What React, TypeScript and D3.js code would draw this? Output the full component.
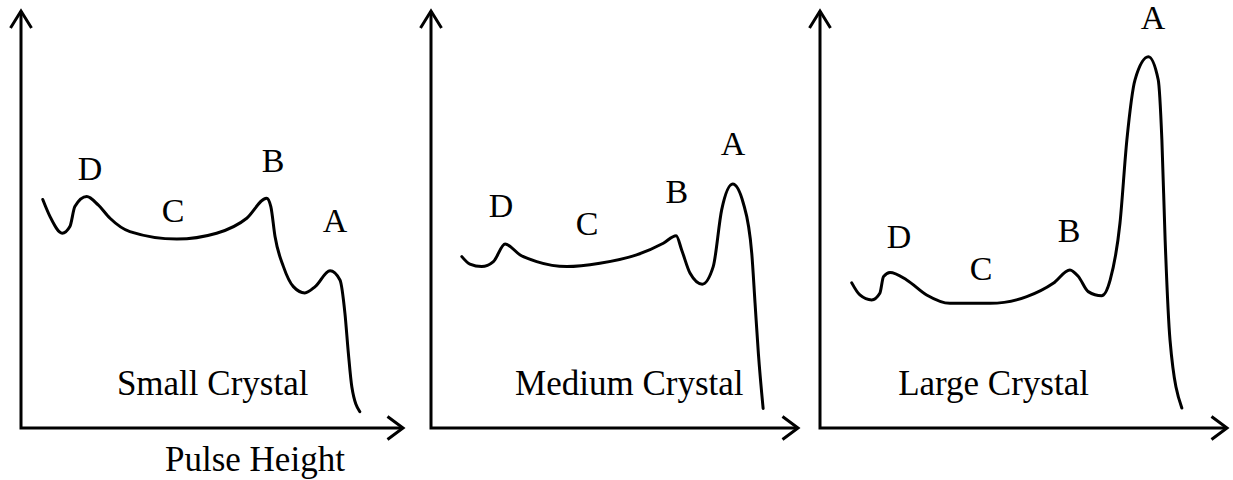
import React from "react";
import * as d3 from "d3";

const panelNames = ["Small Crystal", "Medium Crystal", "Large Crystal"];
const panelLetters = ["D", "C", "B", "A"];

// Pulse height (x) and counts (y) for each spectrum
const smallX = [5.7, 7.6, 10.8, 12.8, 14.1, 17.2, 20.2, 23.3, 28.5, 40.8, 51.2, 59.1, 64.3, 65.4, 66.5, 68.7, 71.3, 74.3, 77.0, 80.9, 83.5, 84.8, 85.7, 86.6, 88.7];
const smallY = [54.8, 50.7, 46.7, 48.3, 53.1, 55.5, 53.5, 50.3, 47.1, 45.3, 46.7, 50.3, 55.1, 53.1, 45.9, 38.7, 33.9, 32.4, 33.9, 37.7, 35.5, 27.5, 17.9, 9.9, 3.9];

const mediumX = [8.4, 10.6, 13.8, 17.0, 20.2, 24.3, 28.8, 37.0, 46.0, 56.0, 63.3, 66.8, 68.3, 70.6, 73.9, 76.9, 79.2, 82.2, 85.1, 87.4, 88.3, 89.2, 90.5];
const mediumY = [41.1, 39.3, 38.7, 39.9, 44.1, 41.5, 39.9, 38.7, 39.5, 41.5, 44.3, 46.1, 42.7, 37.1, 34.5, 38.7, 52.3, 58.5, 53.9, 41.9, 29.9, 17.9, 4.7];

const largeX = [7.8, 9.8, 12.7, 14.7, 15.6, 17.2, 21.3, 26.2, 31.9, 41.8, 50.8, 57.3, 61.4, 63.5, 65.9, 69.2, 71.3, 73.7, 75.4, 77.4, 80.7, 83.1, 84.0, 84.8, 86.0, 88.9];
const largeY = [34.8, 31.9, 30.7, 32.3, 36.3, 37.3, 35.5, 31.9, 29.9, 29.9, 31.5, 34.7, 37.9, 36.3, 32.7, 31.7, 35.5, 49.1, 69.1, 83.5, 89.0, 83.5, 69.1, 45.1, 21.1, 4.8];

// Peak label positions (D, C, B, A) in data units
const smallLabelX = [18.1, 39.8, 66.0, 82.2];
const smallLabelY = [59.5, 49.4, 61.4, 47.0];
const mediumLabelX = [19.1, 42.5, 67.0, 82.3];
const mediumLabelY = [50.7, 46.3, 53.9, 65.5];
const largeLabelX = [19.4, 39.6, 61.2, 81.8];
const largeLabelY = [43.2, 35.5, 44.7, 95.8];

// Crystal name position (x start, y baseline) in data units
const nameX = [25.1, 22.9, 19.2];
const nameY = [7.9, 7.9, 7.9];

const xAxisTitle = "Pulse Height";

const W = 1233;
const H = 480;
const FONT = "Liberation Serif";

const panelFrames = [
  { x0: 21, x1: 403 },
  { x0: 431, x1: 798 },
  { x0: 820, x1: 1227 },
];
const yBottom = 428;
const yTop = 11;

const seriesX = [smallX, mediumX, largeX];
const seriesY = [smallY, mediumY, largeY];
const labelXs = [smallLabelX, mediumLabelX, largeLabelX];
const labelYs = [smallLabelY, mediumLabelY, largeLabelY];

const textStyle: React.CSSProperties = { fontFamily: '"Liberation Serif", "Times New Roman", Times, serif' };

function Panel({ idx }: { idx: number }) {
  const f = panelFrames[idx];
  const x = d3.scaleLinear().domain([0, 100]).range([f.x0, f.x1]);
  const y = d3.scaleLinear().domain([0, 100]).range([yBottom, yTop]);
  const pts: [number, number][] = seriesX[idx].map((v, i) => [v, seriesY[idx][i]]);
  const line = d3
    .line<[number, number]>()
    .x((d) => x(d[0]))
    .y((d) => y(d[1]))
    .curve(d3.curveMonotoneX);
  const ox = x(0);
  const oy = y(0);
  const tx = x(100);
  const ty = y(100);
  const stroke = "#000";
  return (
    <g>
      <path
        d={`M${ox},${ty} L${ox},${oy} L${tx},${oy}`}
        fill="none"
        stroke={stroke}
        strokeWidth={3}
        strokeLinejoin="miter"
      />
      <path
        d={`M${ox - 10.5},${ty + 17} L${ox},${ty} L${ox + 10.5},${ty + 17}`}
        fill="none"
        stroke={stroke}
        strokeWidth={3}
      />
      <path
        d={`M${tx - 15.5},${oy - 11.5} L${tx},${oy} L${tx - 15.5},${oy + 11.5}`}
        fill="none"
        stroke={stroke}
        strokeWidth={3}
      />
      <path d={line(pts) || ""} fill="none" stroke={stroke} strokeWidth={3} strokeLinecap="round" />
      {panelLetters.map((L, i) => (
        <text
          key={L}
          x={x(labelXs[idx][i])}
          y={y(labelYs[idx][i])}
          textAnchor="middle"
          fontFamily={FONT}
          style={textStyle}
          fontSize={34}
          fill="#000"
        >
          {L}
        </text>
      ))}
      <text x={x(nameX[idx])} y={y(nameY[idx])} fontFamily={FONT} style={textStyle} fontSize={35} fill="#000">
        {panelNames[idx]}
      </text>
    </g>
  );
}

export default function App() {
  const x0 = d3.scaleLinear().domain([0, 100]).range([panelFrames[0].x0, panelFrames[0].x1]);
  return (
    <svg
      width={W}
      height={H}
      viewBox={`0 0 ${W} ${H}`}
      style={{ position: "absolute", left: 0, top: 0, background: "#fff" }}
    >
      <rect width={W} height={H} fill="#fff" />
      {[0, 1, 2].map((i) => (
        <Panel key={i} idx={i} />
      ))}
      <text x={x0(37.7)} y={471} fontFamily={FONT} style={textStyle} fontSize={35} fill="#000">
        {xAxisTitle}
      </text>
    </svg>
  );
}
